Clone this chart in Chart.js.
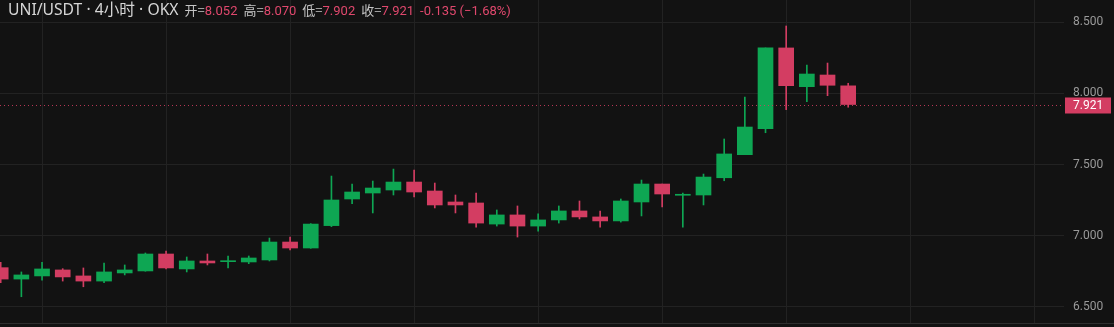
<!DOCTYPE html>
<html>
<head>
<meta charset="utf-8">
<script src="https://cdn.jsdelivr.net/npm/chart.js@4.4.1/dist/chart.umd.min.js"></script>
<style>
  html, body { margin: 0; padding: 0; background: #121212; overflow: hidden; }
  #wrap { position: relative; width: 1114px; height: 327px; }
  #c { position: absolute; left: 0; top: 0; }
  #hdr { position: absolute; left: 8px; top: 0px; height: 19px; line-height: 19px; white-space: nowrap;
         font-family: Roboto, "Noto Sans CJK SC", sans-serif; color: #d6d6d6; }
  #hdr .sym { font-size: 15.7px; font-family: "Noto Sans", "Noto Sans CJK SC", sans-serif; }
  #hdr .k { font-size: 13px; color: #c4c4c4; font-family: "Noto Sans CJK SC", Roboto, sans-serif; }
  #hdr .v { font-size: 13px; color: #e0486d; margin-right: 6px; }
  #hdr .first { margin-left: 6px; }
  #bottom { position: absolute; left: 0; top: 323px; width: 1114px; height: 1px; background: #2e2e2e; }
</style>
</head>
<body>
<div id="wrap">
  <canvas id="c" width="1114" height="327"></canvas>
  <div id="hdr"></div>
  <div id="bottom"></div>
</div>
<script>
// ---- data ----
const opens  = [6.776,6.696,6.718,6.760,6.718,6.682,6.739,6.753,6.872,6.767,6.823,6.818,6.816,6.830,6.956,6.914,7.071,7.258,7.300,7.321,7.377,7.314,7.237,7.230,7.082,7.146,7.068,7.111,7.174,7.132,7.104,7.237,7.363,7.284,7.286,7.407,7.569,7.751,8.318,8.046,8.128,8.052];
const highs  = [6.814,6.746,6.814,6.769,6.774,6.809,6.795,6.879,6.893,6.851,6.872,6.858,6.858,6.984,6.991,7.085,7.419,7.363,7.384,7.468,7.461,7.370,7.286,7.300,7.181,7.209,7.153,7.209,7.244,7.174,7.258,7.391,7.363,7.300,7.433,7.679,7.974,8.318,8.472,8.198,8.212,8.070];
const lows   = [6.671,6.572,6.689,6.682,6.642,6.671,6.725,6.751,6.767,6.746,6.795,6.774,6.804,6.823,6.900,6.912,7.064,7.225,7.160,7.286,7.272,7.195,7.160,7.061,7.068,6.991,7.033,7.089,7.118,7.061,7.096,7.139,7.202,7.061,7.216,7.386,7.569,7.723,7.885,7.941,7.983,7.902];
const closes = [6.696,6.725,6.767,6.711,6.682,6.746,6.760,6.872,6.774,6.823,6.809,6.823,6.844,6.956,6.914,7.082,7.251,7.307,7.335,7.377,7.307,7.216,7.216,7.089,7.146,7.068,7.111,7.174,7.132,7.104,7.244,7.363,7.293,7.291,7.412,7.574,7.763,8.318,8.053,8.135,8.056,7.921];
const yTicks = [6.5, 7.0, 7.5, 8.0, 8.5];
const xGridIdx = [2, 8, 14, 20, 26, 32, 38, 44, 50];
const title = "UNI/USDT · 4小时 · OKX";
const hdrLabels = ["开=", "高=", "低=", "收="];
const hdrValues = ["8.052", "8.070", "7.902", "7.921"];
const hdrChange = "-0.135 (−1.68%)";

// ---- header ----
const hdr = document.getElementById('hdr');
let html = '<span class="sym">' + title + '</span>';
hdrLabels.forEach((k, i) => {
  html += '<span class="k' + (i === 0 ? ' first' : '') + '">' + k + '</span><span class="v">' + hdrValues[i] + '</span>';
});
html += '<span class="v">' + hdrChange + '</span>';
hdr.innerHTML = html;

const UP = '#0ea653';
const DOWN = '#d33d62';
const colors = opens.map((o, i) => closes[i] >= o ? UP : DOWN);
const idx = opens.map((_, i) => i);

const lastClose = closes[closes.length - 1];

const priceLine = {
  id: 'priceLine',
  afterDraw(chart) {
    const ctx = chart.ctx;
    const ys = chart.scales.y;
    const ca = chart.chartArea;
    const y = Math.round(ys.getPixelForValue(lastClose)) + 0.5;
    ctx.save();
    ctx.strokeStyle = 'rgba(211,61,98,0.85)';
    ctx.lineWidth = 1;
    ctx.setLineDash([1, 3]);
    ctx.beginPath();
    ctx.moveTo(ca.left, y);
    ctx.lineTo(ca.right, y);
    ctx.stroke();
    ctx.setLineDash([]);
    ctx.fillStyle = '#d33d62';
    ctx.fillRect(ca.right + 1, y - 8, 46, 16);
    ctx.fillStyle = '#ffffff';
    ctx.font = '12px Roboto, sans-serif';
    ctx.textAlign = 'left';
    ctx.textBaseline = 'middle';
    ctx.fillText(lastClose.toFixed(3), ca.right + 9, y + 0.5);
    ctx.restore();
  }
};

new Chart(document.getElementById('c'), {
  type: 'bar',
  data: {
    datasets: [
      {
        label: 'wick',
        data: idx.map(i => ({ x: i, y: [lows[i], highs[i]] })),
        backgroundColor: colors,
        barThickness: 1,
        grouped: false,
        order: 2
      },
      {
        label: 'body',
        data: idx.map(i => ({ x: i, y: [opens[i], closes[i]] })),
        backgroundColor: colors,
        barThickness: 15,
        minBarLength: 1,
        grouped: false,
        order: 1
      }
    ]
  },
  options: {
    responsive: false,
    animation: false,
    devicePixelRatio: 1,
    layout: { padding: 0 },
    plugins: { legend: { display: false }, tooltip: { enabled: false }, title: { display: false } },
    scales: {
      x: {
        type: 'linear',
        min: -0.034,
        max: 51.44,
        offset: false,
        grid: { color: '#222222', drawTicks: false, offset: false },
        border: { display: false },
        ticks: { display: false },
        afterBuildTicks(s) { s.ticks = xGridIdx.map(v => ({ value: v })); },
        afterFit(s) { s.height = 3; s.paddingLeft = 0; s.paddingRight = 0; }
      },
      y: {
        position: 'right',
        min: 6.3807,
        max: 8.6544,
        grid: { color: '#222222', drawTicks: false, offset: false },
        border: { display: false },
        ticks: {
          color: '#9a9a9a',
          font: { family: 'Roboto, sans-serif', size: 12 },
          padding: 9,
          callback: v => Number(v).toFixed(3)
        },
        afterBuildTicks(s) { s.ticks = yTicks.map(v => ({ value: v })); },
        afterFit(s) { s.width = 50; s.paddingTop = 0; s.paddingBottom = 0; }
      }
    }
  },
  plugins: [priceLine]
});
</script>
</body>
</html>
